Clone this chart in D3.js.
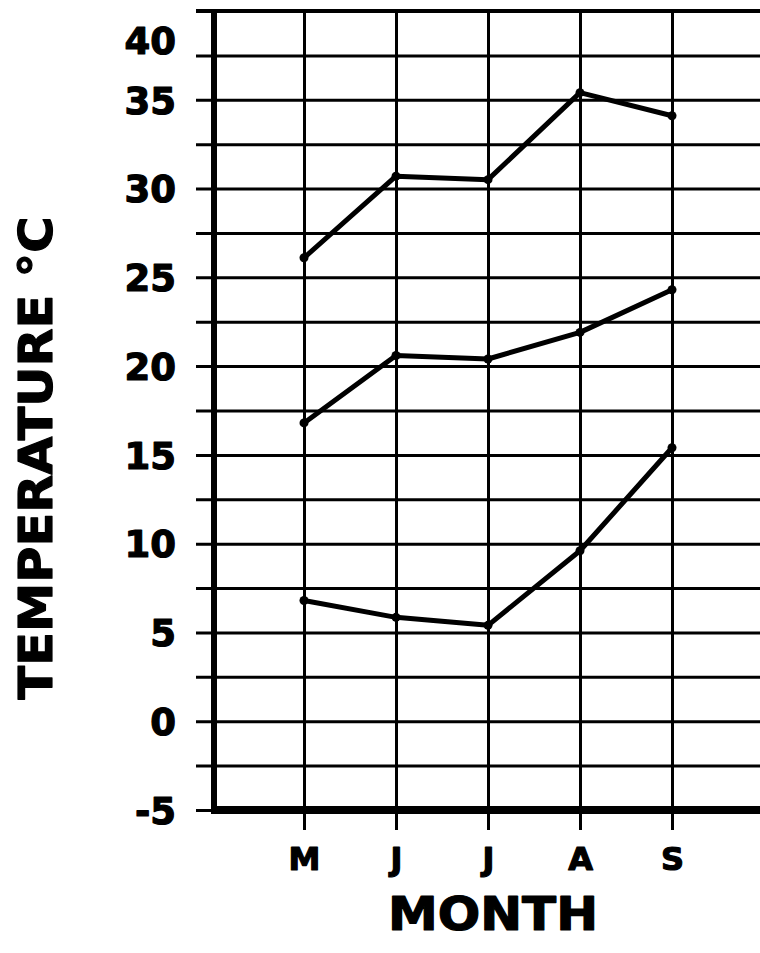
<!DOCTYPE html>
<html>
<head>
<meta charset="utf-8">
<script src="https://cdn.jsdelivr.net/npm/d3@7"></script>
<style>
  html, body { margin: 0; padding: 0; background: #fff; }
  svg { display: block; }
  text { font-family: "DejaVu Sans", "Liberation Sans", sans-serif; font-weight: bold; fill: #000;
         stroke: #000; stroke-width: 1.2px; stroke-linejoin: round; }
</style>
</head>
<body>
<svg id="chart" width="760" height="953"></svg>
<script>
// Monthly temperatures (°C): three curves over May–September
const months = ["M", "J", "J", "A", "S"];
const upperTemps = [26.1, 30.7, 30.5, 35.4, 34.1];
const middleTemps = [16.8, 20.6, 20.4, 21.9, 24.3];
const lowerTemps = [6.8, 5.85, 5.4, 9.6, 15.4];
const yTicks = [-5, -2.5, 0, 2.5, 5, 7.5, 10, 12.5, 15, 17.5, 20, 22.5, 25, 27.5, 30, 32.5, 35, 37.5, 40];
const series = [upperTemps, middleTemps, lowerTemps];

const svg = d3.select("#chart");
const W = 760;

// index -1 is the y axis, months sit at 0..4
const x = d3.scaleLinear().domain([-1, 5]).range([212, 764]);
const y = d3.scaleLinear().domain([-5, 40]).range([810, 11]);

// horizontal grid + value labels (plain hyphen for negatives)
const yAxis = d3.axisLeft(y)
  .tickValues(yTicks)
  .tickSize(-(W - 196))
  .tickPadding(20)
  .tickFormat(d => (d % 5 === 0 ? String(d) : ""));

const gy = svg.append("g")
  .attr("transform", "translate(196,0)")
  .call(yAxis);
gy.select(".domain").remove();
gy.selectAll(".tick line").attr("stroke", "#000").attr("stroke-width", 3);
gy.selectAll(".tick text")
  .style("font-size", "37px")
  .attr("fill", "#000")
  .attr("dy", d => (d === 40 ? "1.15em" : "0.36em"));

// vertical grid at each month + month labels
const xAxis = d3.axisBottom(x)
  .tickValues(d3.range(months.length))
  .tickSize(-(830 - 11))
  .tickPadding(17)
  .tickFormat(i => months[i]);

const gx = svg.append("g")
  .attr("transform", "translate(0,830)")
  .call(xAxis);
gx.select(".domain").remove();
gx.selectAll(".tick line").attr("stroke", "#000").attr("stroke-width", 3);
gx.selectAll(".tick text").style("font-size", "32px").attr("fill", "#000");

// top border line
svg.append("line")
  .attr("x1", 196).attr("x2", W)
  .attr("y1", y(40)).attr("y2", y(40))
  .attr("stroke", "#000").attr("stroke-width", 4);

// heavy axis lines
svg.append("line")
  .attr("x1", x(-1) + 2).attr("x2", x(-1) + 2)
  .attr("y1", y(40) - 2).attr("y2", y(-5) + 4)
  .attr("stroke", "#000").attr("stroke-width", 6);
svg.append("line")
  .attr("x1", x(-1) - 1).attr("x2", W)
  .attr("y1", y(-5)).attr("y2", y(-5))
  .attr("stroke", "#000").attr("stroke-width", 8);

// temperature curves
const line = d3.line()
  .x((d, i) => x(i))
  .y(d => y(d));

series.forEach(vals => {
  svg.append("path")
    .datum(vals)
    .attr("d", line)
    .attr("fill", "none")
    .attr("stroke", "#000")
    .attr("stroke-width", 5)
    .attr("stroke-linejoin", "round");
  svg.append("g")
    .selectAll("circle")
    .data(vals)
    .join("circle")
    .attr("cx", (d, i) => x(i))
    .attr("cy", d => y(d))
    .attr("r", 4.5)
    .attr("fill", "#000");
});

// axis titles
svg.append("text")
  .attr("x", 493)
  .attr("y", 930)
  .attr("text-anchor", "middle")
  .style("font-size", "46px")
  .attr("textLength", 210)
  .attr("lengthAdjust", "spacingAndGlyphs")
  .text("MONTH");

svg.append("text")
  .attr("transform", "translate(52,458) rotate(-90)")
  .attr("text-anchor", "middle")
  .style("font-size", "47px")
  .attr("textLength", 483)
  .attr("lengthAdjust", "spacingAndGlyphs")
  .text("TEMPERATURE °C");
</script>
</body>
</html>
